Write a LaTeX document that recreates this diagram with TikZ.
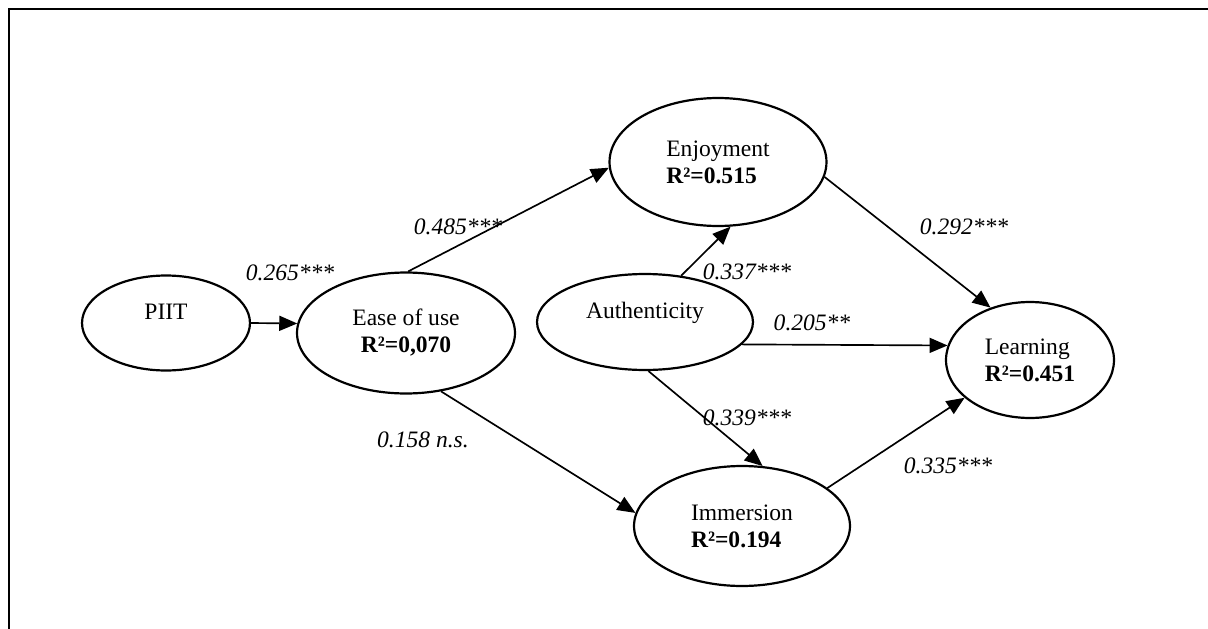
\documentclass[tikz,border=0pt]{standalone}
\usepackage{fontspec}
\setmainfont{Liberation Serif}
\usetikzlibrary{arrows.meta, shapes.geometric}
\tikzset{
	construct/.style={ellipse, draw=black, line width=1.25pt, inner sep=0pt, align=center, font=\fontsize{13.4}{15.4}\selectfont},
	coef/.style={inner sep=0pt, font=\fontsize{13.4}{15.4}\selectfont\itshape},
	arrow/.style={-{Triangle[length=0.36cm, width=0.3cm]}, line width=0.95pt, draw=black},
}

\begin{document}
\begin{tikzpicture}[x=0.02cm, y=-0.02cm]
		\useasboundingbox (0,0) rectangle (1208,629);
		\draw[line width=1.2pt] (9,629) -- (9,9) -- (1208,9);
		\node[construct, minimum width=3.36cm, minimum height=1.9cm, text depth=0.45cm] (pi) at (166,323) {PIIT};
		\node[construct, minimum width=4.36cm, minimum height=2.42cm] (eu) at (406,333) {Ease of use\\\textbf{R²=0,070}};
		\node[construct, align=left, minimum width=4.34cm, minimum height=2.56cm] (en) at (718,162) {Enjoyment\\\textbf{R²=0.515}};
		\node[construct, minimum width=4.32cm, minimum height=1.92cm, text depth=0.45cm] (au) at (645,322) {Authenticity};
		\node[construct, align=left, minimum width=3.36cm, minimum height=2.32cm] (le) at (1030,360) {Learning\\\textbf{R²=0.451}};
		\node[construct, align=left, minimum width=4.32cm, minimum height=2.4cm] (im) at (742,526) {Immersion\\\textbf{R²=0.194}};
		\draw[arrow] (pi.east) -- (eu.175);
		\draw[arrow] (eu.88) -- (en.183);
		\draw[arrow] (eu.301) -- (im.173);
		\draw[arrow] (au.52) -- (en.281);
		\draw[arrow] (au.274) -- (im.71);
		\draw[arrow] (au.347) -- (le.170);
		\draw[arrow] (en.352) -- (le.127);
		\draw[arrow] (im.24) -- (le.210);
		\node[coef] (c1) at (290,273) {0.265***};
		\node[coef] (c2) at (458,227) {0.485***};
		\node[coef] (c3) at (747,272) {0.337***};
		\node[coef] (c4) at (812,323) {0.205**};
		\node[coef] (c5) at (964,227) {0.292***};
		\node[coef] (c6) at (423,440) {0.158 n.s.};
		\node[coef] (c7) at (747,418) {0.339***};
		\node[coef] (c8) at (948,466) {0.335***};
	\end{tikzpicture}
\end{document}
